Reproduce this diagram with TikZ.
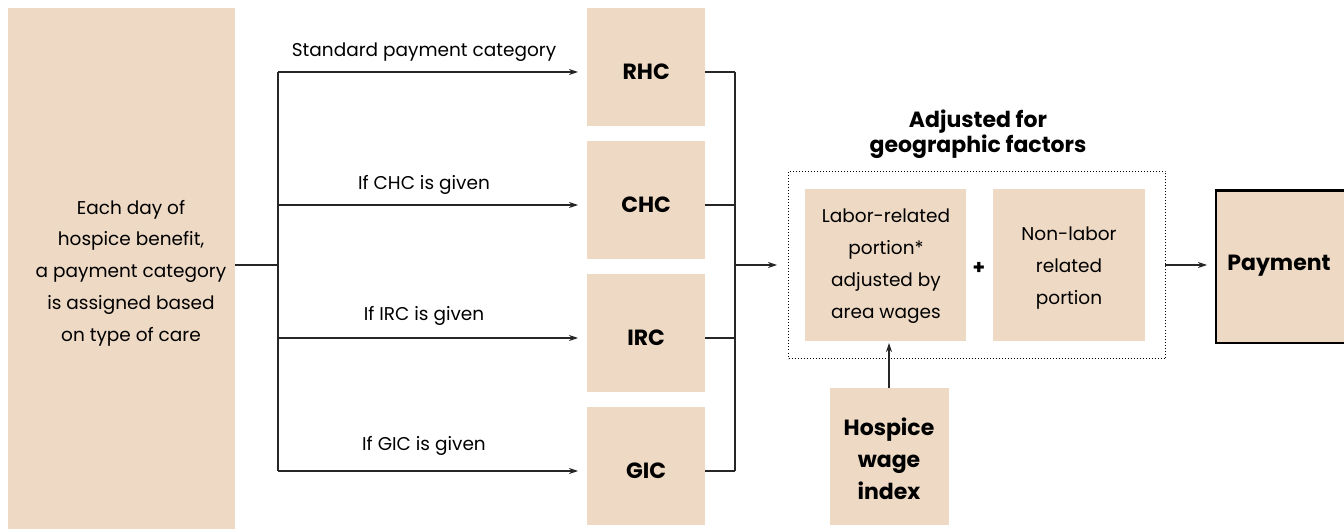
\documentclass[tikz,border=0pt]{standalone}
\usepackage{fontspec}
\setmainfont{Poppins}
\usetikzlibrary{arrows.meta}
\definecolor{tan}{RGB}{237,217,196}
\tikzset{
  fillbox/.style={fill=tan,draw=none,inner sep=0pt,align=center},
  lbl/.style={font=\fontsize{18.5}{32}\selectfont,align=center,inner sep=0pt},
  bold/.style={font=\fontsize{22}{32}\selectfont\bfseries,align=center,inner sep=0pt},
  conn/.style={line width=1.1pt,black!85},
  arr/.style={conn,-{Stealth[length=9pt,width=6pt]}}
}
\begin{document}
\begin{tikzpicture}[x=1pt,y=-1pt]
\useasboundingbox (0,0) rectangle (1344,529);
% left box
\node[fillbox,minimum width=227pt,minimum height=521pt,anchor=north west] (left) at (8,8) {};
\node[lbl,font=\fontsize{18.5}{31.8}\selectfont] (lefttext) at (131,273) {Each day of\\hospice benefit,\\a payment category\\is assigned based\\on type of care};
% category boxes
\foreach \n/\t/\y in {rhc/RHC/8,chc/CHC/141,irc/IRC/274,gic/GIC/407}{
  \node[fillbox,minimum width=118pt,minimum height=118pt,anchor=north west] (\n) at (587,\y) {};
  \node[bold] (\n text) at ([yshift=-5pt]\n.center) {\t};
}
% branching
\coordinate (split) at (278,265);
\coordinate (t1) at (278,72);
\coordinate (t4) at (278,471);
\draw[conn] (left.east |- split) -- (split);
\draw[conn] (t1) -- (t4);
\foreach \n/\y in {rhc/72,chc/205,irc/338,gic/471}{
  \coordinate (e\n) at (578,\y);
  \draw[arr] (278,\y) -- (e\n);
}
\node[lbl] (l1) at (424,52) {Standard payment category};
\node[lbl] (l2) at (424,185) {If CHC is given};
\node[lbl] (l3) at (424,316) {If IRC is given};
\node[lbl] (l4) at (424,446) {If GIC is given};
% merge
\foreach \n/\y in {rhc/72,chc/205,irc/338,gic/471}{
  \draw[conn] (\n.east |- 0,\y) -- (735,\y);
}
\draw[conn] (735,72) -- (735,471);
\coordinate (merge) at (735,265);
% dotted group
\node[draw,dotted,line width=1pt,minimum width=377pt,minimum height=187pt,anchor=north west,inner sep=0pt] (grp) at (788,171) {};
\coordinate (gin) at (777,265);
\draw[arr] (merge) -- (gin);
\node[bold,font=\fontsize{22}{25}\selectfont\bfseries] (title) at (978,134) {Adjusted for\\geographic factors};
\node[fillbox,minimum width=161pt,minimum height=152pt,anchor=north west] (labor) at (805,189) {};
\node[lbl] (labortext) at (886,266) {Labor-related\\portion*\\adjusted by\\area wages};
\node[font=\fontsize{20}{24}\selectfont\bfseries,inner sep=0pt] (plus) at (979,268) {+};
\node[fillbox,minimum width=152pt,minimum height=152pt,anchor=north west] (nonlabor) at (993,189) {};
\node[lbl] (nonlabortext) at (1069,268) {Non-labor\\related\\portion};
% payment
\node[fillbox,draw=black,line width=2.6pt,minimum width=130pt,minimum height=152pt,anchor=north west] (pay) at (1214.5,189.5) {};
\node[bold] (paytext) at (1279,266) {Payment};
\coordinate (gout) at (1165,265);
\coordinate (pin) at (1207,265);
\draw[arr] (gout) -- (pin);
% hospice wage index
\node[fillbox,minimum width=119pt,minimum height=137pt,anchor=north west] (hwi) at (830,388) {};
\node[bold] (hwitext) at (889,459) {Hospice\\wage\\index};
\coordinate (hwitop) at (889,388);
\coordinate (labbot) at (889,343);
\draw[arr] (hwitop) -- (labbot);
\end{tikzpicture}
\end{document}
